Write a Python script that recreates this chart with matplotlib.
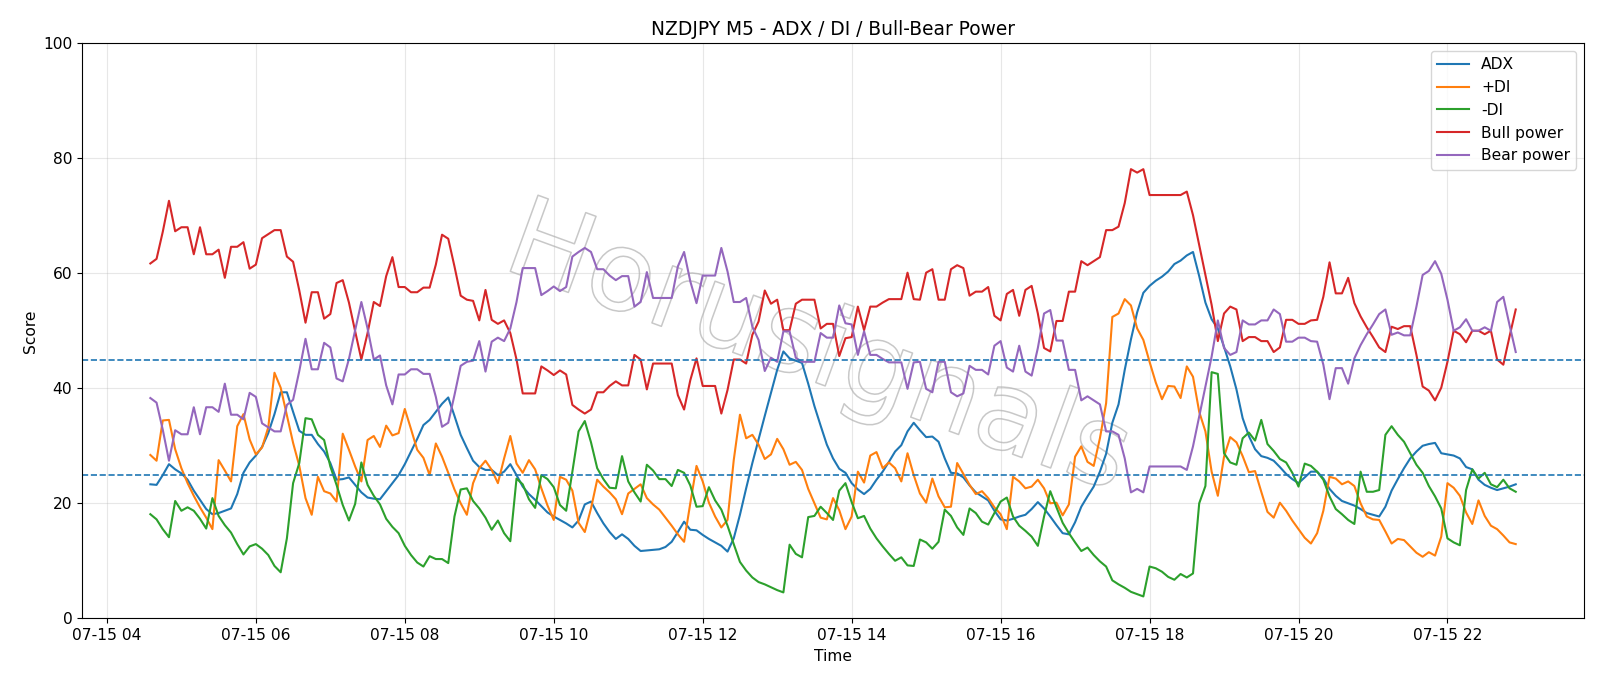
import matplotlib
matplotlib.use("Agg")
import matplotlib.pyplot as plt
import matplotlib.dates as mdates
import matplotlib.patheffects as pe
import pandas as pd

# NZDJPY M5 bars, 07-15 04:35 .. 22:55
start = "2025-07-15 04:35"
n_bars = 221

adx = [
    23.3, 23.2, 24.9, 26.8, 25.9, 25.2, 24.1, 22.2, 20.6, 19.0,
    18.1, 18.3, 18.7, 19.1, 21.6, 25.3, 27.1, 28.3, 29.8, 32.2,
    35.5, 39.3, 39.3, 35.9, 32.6, 31.9, 31.9, 30.3, 29.0, 27.0,
    24.1, 24.2, 24.5, 23.2, 21.9, 21.0, 20.8, 20.7, 22.1, 23.5,
    24.9, 26.8, 29.0, 31.2, 33.6, 34.5, 35.9, 37.3, 38.4, 35.2,
    31.9, 29.6, 27.4, 26.3, 25.8, 25.8, 24.9, 25.5, 26.8, 24.9,
    22.9, 21.6, 20.6, 19.5, 18.4, 17.7, 17.1, 16.5, 15.8, 17.0,
    19.8, 20.3, 18.3, 16.5, 15.0, 13.8, 14.6, 13.8, 12.6, 11.7,
    11.8, 11.9, 12.0, 12.4, 13.3, 15.0, 16.8, 15.4, 15.3, 14.5,
    13.8, 13.2, 12.6, 11.6, 13.9, 18.0, 22.6, 27.0, 31.1, 35.2,
    39.2, 43.2, 46.4, 45.2, 44.8, 44.4, 40.8, 36.9, 33.5, 30.2,
    27.8, 26.0, 25.3, 23.5, 22.4, 21.6, 22.5, 24.1, 25.5, 27.2,
    29.0, 30.1, 32.5, 34.0, 32.7, 31.5, 31.6, 30.7, 27.8, 25.3,
    25.2, 24.5, 23.1, 21.9, 21.2, 20.5, 18.7, 17.2, 17.0, 17.3,
    17.7, 18.0, 19.0, 20.2, 19.1, 17.7, 16.2, 14.8, 14.6, 16.7,
    19.4, 21.2, 22.9, 25.5, 28.6, 34.0, 37.2, 43.2, 48.5, 53.2,
    56.6, 57.8, 58.7, 59.4, 60.3, 61.6, 62.2, 63.1, 63.7, 59.5,
    54.9, 52.0, 50.4, 47.2, 43.8, 39.8, 34.8, 31.7, 29.4, 28.2,
    27.9, 27.4, 26.3, 25.1, 24.2, 23.5, 24.5, 25.5, 25.5, 24.3,
    22.5, 21.3, 20.4, 20.0, 19.6, 19.0, 18.3, 18.0, 17.7, 19.4,
    22.2, 24.2, 26.1, 27.8, 29.0, 30.0, 30.3, 30.5, 28.7, 28.5,
    28.3, 27.8, 26.3, 25.9, 24.1, 23.2, 22.7, 22.3, 22.6, 22.9,
    23.3,
]

plus_di = [
    28.4, 27.4, 34.4, 34.5, 29.4, 26.1, 23.5, 21.3, 19.3, 17.5,
    15.5, 27.5, 25.7, 23.8, 33.4, 35.5, 31.1, 28.5, 29.7, 33.2,
    42.7, 40.1, 35.3, 30.5, 26.5, 20.9, 18.0, 24.6, 22.1, 21.7,
    20.3, 32.1, 29.3, 26.4, 23.8, 31.0, 31.7, 29.8, 33.5, 31.8,
    32.2, 36.4, 32.9, 29.3, 27.9, 24.9, 30.4, 28.1, 25.3, 22.4,
    20.0, 18.0, 23.5, 26.1, 27.4, 25.8, 23.5, 27.8, 31.7, 26.9,
    25.3, 27.5, 25.9, 22.6, 19.6, 17.1, 24.6, 24.1, 22.2, 16.6,
    15.0, 19.1, 24.1, 22.9, 21.9, 20.7, 18.1, 21.7, 22.5, 23.3,
    20.9, 19.8, 18.9, 17.5, 16.1, 14.6, 13.3, 20.0, 26.5, 23.8,
    20.1, 17.7, 15.8, 17.1, 27.5, 35.4, 31.3, 31.9, 30.2, 27.7,
    28.5, 31.2, 29.4, 26.7, 27.2, 25.8, 22.5, 20.0, 17.5, 17.2,
    20.9, 18.8, 15.5, 17.7, 25.5, 23.6, 28.3, 28.9, 26.1, 27.1,
    26.1, 23.8, 28.7, 24.9, 21.7, 20.1, 24.3, 21.2, 19.3, 19.4,
    27.0, 25.1, 23.2, 21.6, 22.1, 20.9, 19.3, 18.1, 15.5, 24.6,
    23.8, 22.6, 22.9, 24.1, 22.6, 20.0, 20.1, 17.9, 19.8, 28.1,
    29.9, 27.2, 26.5, 31.3, 37.4, 52.4, 53.0, 55.5, 54.4, 50.4,
    48.4, 44.6, 41.0, 38.1, 40.4, 40.3, 38.3, 43.8, 42.0, 35.9,
    32.5, 25.5, 21.3, 28.1, 31.5, 30.6, 28.2, 25.4, 25.6, 22.0,
    18.5, 17.5, 20.1, 18.7, 17.0, 15.5, 14.0, 13.0, 14.8, 18.7,
    24.6, 24.3, 23.3, 23.8, 23.0, 20.0, 17.7, 17.2, 17.1, 15.1,
    13.0, 13.8, 13.6, 12.5, 11.4, 10.7, 11.5, 10.9, 14.2, 23.5,
    22.7, 21.3, 18.4, 16.4, 20.5, 17.8, 16.1, 15.5, 14.4, 13.2,
    12.9,
]

minus_di = [
    18.1, 17.2, 15.5, 14.1, 20.4, 18.7, 19.3, 18.7, 17.3, 15.6,
    20.9, 17.8, 16.2, 14.9, 12.9, 11.1, 12.5, 12.9, 12.1, 11.0,
    9.1, 8.0, 13.9, 23.5, 27.0, 34.8, 34.6, 31.9, 31.0, 26.4,
    23.2, 19.7, 17.0, 19.9, 27.1, 23.2, 21.3, 19.8, 17.3, 15.9,
    14.8, 12.6, 11.0, 9.7, 9.0, 10.8, 10.3, 10.3, 9.6, 17.7,
    22.4, 22.6, 20.4, 19.1, 17.5, 15.4, 17.0, 14.8, 13.4, 24.3,
    23.3, 20.7, 19.2, 24.9, 24.2, 22.8, 19.7, 18.7, 25.5, 32.5,
    34.3, 30.6, 26.1, 24.2, 22.7, 22.6, 28.2, 23.8, 21.9, 20.3,
    26.7, 25.7, 24.2, 24.2, 23.0, 25.8, 25.3, 23.1, 19.4, 19.5,
    22.8, 20.5, 18.9, 16.1, 12.9, 9.8, 8.3, 7.1, 6.3, 5.9,
    5.4, 4.9, 4.5, 12.8, 11.2, 10.6, 17.6, 17.8, 19.4, 18.3,
    17.1, 22.2, 23.5, 20.2, 17.4, 17.8, 15.6, 13.9, 12.5, 11.2,
    10.0, 10.6, 9.2, 9.1, 13.7, 13.2, 12.1, 13.3, 18.9, 17.8,
    15.8, 14.5, 19.1, 18.3, 16.8, 16.3, 18.3, 20.3, 21.0, 17.7,
    16.1, 15.2, 14.2, 12.6, 17.7, 22.1, 19.3, 16.6, 14.8, 13.2,
    11.7, 12.3, 11.0, 9.9, 9.0, 6.6, 5.9, 5.3, 4.6, 4.2,
    3.8, 9.0, 8.7, 8.1, 7.2, 6.7, 7.7, 7.1, 7.8, 20.0,
    23.0, 42.8, 42.5, 28.7, 27.1, 26.7, 31.3, 32.3, 30.9, 34.5,
    30.3, 29.1, 27.7, 27.1, 25.3, 22.9, 26.9, 26.5, 25.5, 24.1,
    21.2, 19.0, 18.1, 17.1, 16.4, 25.5, 22.0, 22.0, 22.3, 31.9,
    33.4, 31.9, 30.7, 28.7, 26.7, 25.3, 23.0, 21.2, 19.1, 13.9,
    13.2, 12.7, 22.3, 25.9, 24.3, 25.3, 23.3, 22.8, 24.1, 22.6,
    22.0,
]

bull_power = [
    61.7, 62.5, 67.2, 72.6, 67.3, 68.0, 68.0, 63.3, 68.0, 63.3,
    63.3, 64.1, 59.2, 64.6, 64.6, 65.4, 60.8, 61.5, 66.1, 66.8,
    67.5, 67.5, 62.9, 62.0, 57.0, 51.4, 56.7, 56.7, 52.1, 52.9,
    58.3, 58.8, 54.9, 49.9, 45.0, 49.6, 55.0, 54.3, 59.5, 62.8,
    57.6, 57.6, 56.7, 56.7, 57.5, 57.5, 61.5, 66.7, 66.0, 61.2,
    56.1, 55.4, 55.2, 51.8, 57.1, 51.9, 51.2, 51.8, 49.6, 45.0,
    39.1, 39.1, 39.1, 43.8, 43.1, 42.3, 43.1, 42.4, 37.1, 36.3,
    35.6, 36.3, 39.3, 39.3, 40.4, 41.2, 40.5, 40.5, 45.8, 45.0,
    39.8, 44.3, 44.3, 44.3, 44.3, 38.8, 36.3, 41.4, 45.2, 40.4,
    40.4, 40.4, 35.6, 39.7, 45.0, 45.0, 44.3, 49.3, 51.6, 57.0,
    54.7, 55.4, 50.1, 50.1, 54.7, 55.4, 55.4, 55.4, 50.4, 51.2,
    51.2, 45.6, 48.7, 48.9, 54.2, 50.1, 54.2, 54.2, 54.9, 55.5,
    55.5, 55.5, 60.1, 55.5, 55.4, 60.1, 60.7, 55.4, 55.4, 60.7,
    61.4, 60.9, 56.1, 56.8, 56.8, 57.6, 52.6, 51.8, 56.4, 57.1,
    52.6, 57.1, 57.8, 53.0, 47.0, 46.4, 51.7, 51.7, 56.8, 56.8,
    62.1, 61.4, 62.1, 62.8, 67.5, 67.5, 68.1, 72.2, 78.1, 77.5,
    78.1, 73.6, 73.6, 73.6, 73.6, 73.6, 73.6, 74.2, 70.1, 64.9,
    59.7, 54.5, 48.2, 53.0, 54.2, 53.7, 48.2, 48.9, 48.9, 48.2,
    48.2, 46.3, 47.1, 51.9, 51.9, 51.2, 51.2, 51.8, 51.9, 55.9,
    61.9, 56.5, 56.5, 59.2, 54.8, 52.5, 50.6, 48.9, 47.1, 46.3,
    50.7, 50.3, 50.8, 50.8, 45.8, 40.3, 39.6, 37.9, 40.1, 44.6,
    50.0, 49.4, 48.0, 50.0, 50.0, 49.4, 50.0, 45.0, 44.1, 49.0,
    53.7,
]

bear_power = [
    38.3, 37.5, 32.8, 27.4, 32.7, 32.0, 32.0, 36.7, 32.0, 36.7,
    36.7, 35.9, 40.8, 35.4, 35.4, 34.6, 39.2, 38.5, 33.9, 33.2,
    32.5, 32.5, 37.1, 38.0, 43.0, 48.6, 43.3, 43.3, 47.9, 47.1,
    41.7, 41.2, 45.1, 50.1, 55.0, 50.4, 45.0, 45.7, 40.5, 37.2,
    42.4, 42.4, 43.3, 43.3, 42.5, 42.5, 38.5, 33.3, 34.0, 38.8,
    43.9, 44.6, 44.8, 48.2, 42.9, 48.1, 48.8, 48.2, 50.4, 55.0,
    60.9, 60.9, 60.9, 56.2, 56.9, 57.7, 56.9, 57.6, 62.9, 63.7,
    64.4, 63.7, 60.7, 60.7, 59.6, 58.8, 59.5, 59.5, 54.2, 55.0,
    60.2, 55.7, 55.7, 55.7, 55.7, 61.2, 63.7, 58.6, 54.8, 59.6,
    59.6, 59.6, 64.4, 60.3, 55.0, 55.0, 55.7, 50.7, 48.4, 43.0,
    45.3, 44.6, 49.9, 49.9, 45.3, 44.6, 44.6, 44.6, 49.6, 48.8,
    48.8, 54.4, 51.3, 51.1, 45.8, 49.9, 45.8, 45.8, 45.1, 44.5,
    44.5, 44.5, 39.9, 44.5, 44.6, 39.9, 39.3, 44.6, 44.6, 39.3,
    38.6, 39.1, 43.9, 43.2, 43.2, 42.4, 47.4, 48.2, 43.6, 42.9,
    47.4, 42.9, 42.2, 47.0, 53.0, 53.6, 48.3, 48.3, 43.2, 43.2,
    37.9, 38.6, 37.9, 37.2, 32.5, 32.5, 31.9, 27.8, 21.9, 22.5,
    21.9, 26.4, 26.4, 26.4, 26.4, 26.4, 26.4, 25.8, 29.9, 35.1,
    40.3, 45.5, 51.8, 47.0, 45.8, 46.3, 51.8, 51.1, 51.1, 51.8,
    51.8, 53.7, 52.9, 48.1, 48.1, 48.8, 48.8, 48.2, 48.1, 44.1,
    38.1, 43.5, 43.5, 40.8, 45.2, 47.5, 49.4, 51.1, 52.9, 53.7,
    49.3, 49.7, 49.2, 49.2, 54.2, 59.7, 60.4, 62.1, 59.9, 55.4,
    50.0, 50.6, 52.0, 50.0, 50.0, 50.6, 50.0, 55.0, 55.9, 51.0,
    46.3,
]

adx_strong = 45
adx_trend = 25

times = pd.date_range(start, periods=n_bars, freq="5min")

plt.rcParams['font.size'] = 11.2

fig, ax = plt.subplots(figsize=(16, 6.86), dpi=100)
plt.subplots_adjust(left=0.0513, right=0.99, top=0.937, bottom=0.0987)

# watermark, hollow grey letters behind the data
ax.text(0.49, 0.465, "Horusignals", transform=ax.transAxes,
        fontsize=80, rotation=-20,
        ha="center", va="center", color="none", zorder=0.5,
        path_effects=[pe.withStroke(linewidth=1.1, foreground="#c8c8c8")])

ax.plot(times, adx, label="ADX")
ax.plot(times, plus_di, label="+DI")
ax.plot(times, minus_di, label="-DI")
ax.plot(times, bull_power, label="Bull power")
ax.plot(times, bear_power, label="Bear power")

ax.axhline(adx_strong, linestyle="--", color="C0", linewidth=1.2)
ax.axhline(adx_trend, linestyle="--", color="C0", linewidth=1.2)

ax.set_ylim(0, 100)
ax.xaxis.set_major_locator(mdates.HourLocator(byhour=range(0, 24, 2)))
ax.xaxis.set_major_formatter(mdates.DateFormatter("%m-%d %H"))
ax.grid(True, alpha=0.3)

ax.set_title("NZDJPY M5 - ADX / DI / Bull-Bear Power")
ax.set_xlabel("Time")
ax.set_ylabel("Score")
ax.legend(loc="upper right")

plt.savefig("out.png", dpi=100)
